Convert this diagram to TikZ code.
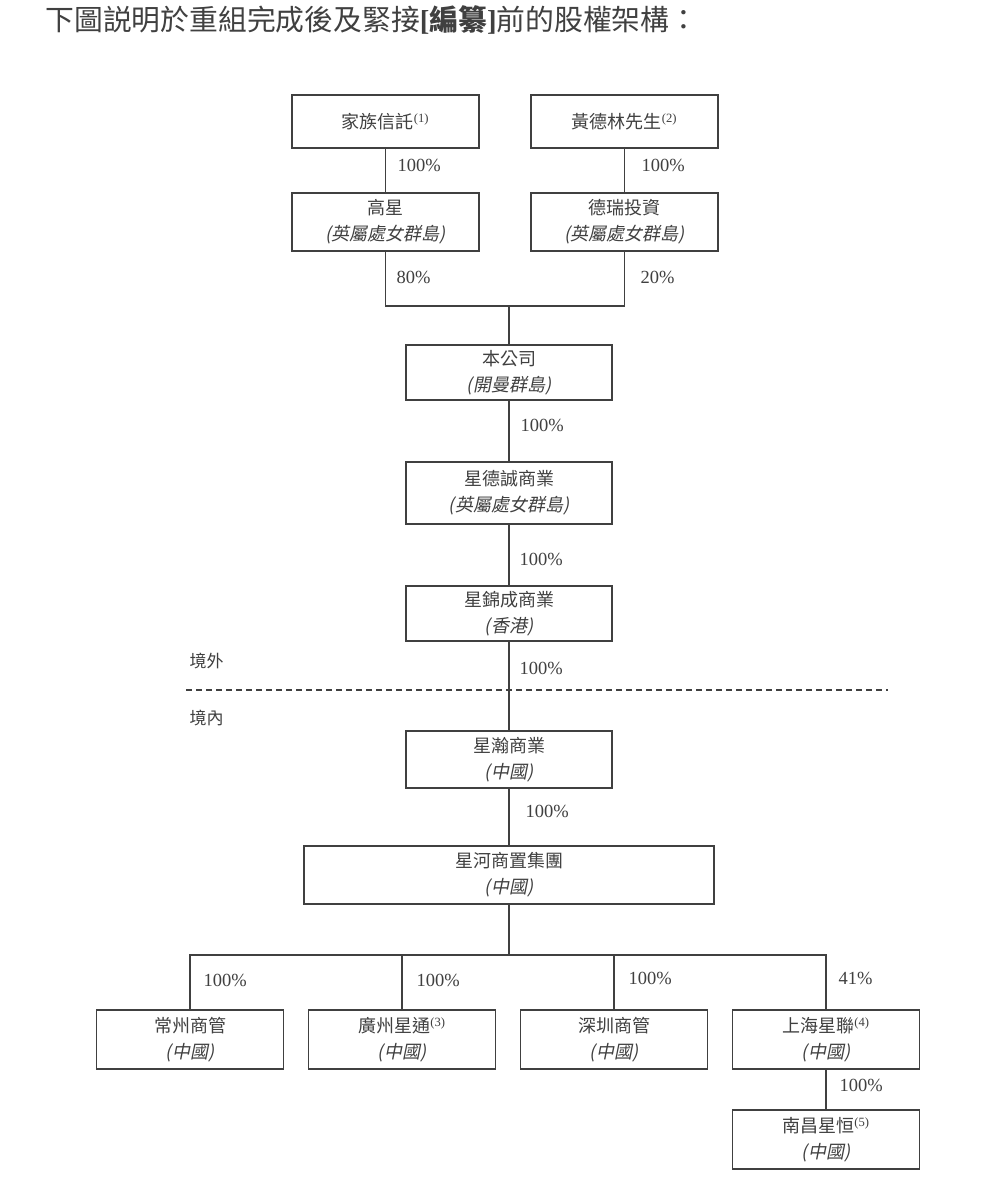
\documentclass[tikz,border=0pt]{standalone}
\usepackage{fontspec}
\setmainfont{Liberation Serif}
\newfontfamily\zhfont{Noto Sans CJK TC}
\newfontfamily\zhslant[FakeSlant=0.2]{Noto Sans CJK TC}
\usetikzlibrary{positioning}

\newcommand{\fnmark}[1]{\textsuperscript{\rmfamily(#1)}}

\begin{document}
\begin{tikzpicture}[x=1pt,y=-1pt,
      color=black!75,line width=1.1pt,
      box/.style={draw,minimum width=187pt,minimum height=53pt,inner sep=0pt,
                  align=center,font=\zhfont\fontsize{18}{26}\selectfont},
      wbox/.style={box,minimum width=206pt},
      pct/.style={anchor=west,inner sep=0pt,font=\fontsize{18.5}{20}\selectfont},
      area/.style={anchor=west,inner sep=0pt,font=\zhfont\fontsize{17}{20}\selectfont}]
    \useasboundingbox[fill=white] (0,0) rectangle (995,1198);

    \node[anchor=west,inner sep=0pt,font=\zhfont\fontsize{28.8}{30}\selectfont] (title) at (45,20)
      {下圖説明於重組完成後及緊接{\rmfamily\bfseries[}{\bfseries 編纂}{\rmfamily\bfseries]}前的股權架構：};

    % holders
    \node[box] (trust) at (385.5,121.5) {家族信託\fnmark{1}};
    \node[box] (huang) at (624.5,121.5) {黃德林先生\fnmark{2}};
    \node[box,minimum height=58pt] (gaox) at (385.5,222) {高星\\{\zhslant(英屬處女群島)}};
    \node[box,minimum height=58pt] (deri) at (624.5,222) {德瑞投資\\{\zhslant(英屬處女群島)}};

    % offshore chain
    \node[wbox,minimum height=55pt] (comp) at (509,372.5) {本公司\\{\zhslant(開曼群島)}};
    \node[wbox,minimum height=62pt] (xdc) at (509,493) {星德誠商業\\{\zhslant(英屬處女群島)}};
    \node[wbox,minimum height=55pt] (xjc) at (509,613.5) {星錦成商業\\{\zhslant(香港)}};

    % onshore
    \node[wbox,minimum height=57pt] (xhs) at (509,759.5) {星瀚商業\\{\zhslant(中國)}};
    \node[box,minimum width=410pt,minimum height=58pt] (xhz) at (509,875) {星河商置集團\\{\zhslant(中國)}};
    \node[box,minimum height=59pt] (cz)  at (190,1039.5) {常州商管\\{\zhslant(中國)}};
    \node[box,minimum height=59pt] (gz)  at (402,1039.5) {廣州星通\fnmark{3}\\{\zhslant(中國)}};
    \node[box,minimum height=59pt] (sz)  at (614,1039.5) {深圳商管\\{\zhslant(中國)}};
    \node[box,minimum height=59pt] (shx) at (826,1039.5) {上海星聯\fnmark{4}\\{\zhslant(中國)}};
    \node[box,minimum height=59pt] (nc)  at (826,1139.5) {南昌星恒\fnmark{5}\\{\zhslant(中國)}};

    % border between offshore and onshore
    \coordinate (bl) at (186,690);
    \coordinate (br) at (888,690);
    \draw[dash pattern=on 6pt off 4pt] (bl) -- (br);
    \node[area] (off) at (189,661) {境外};
    \node[area] (on)  at (189,718) {境內};

    % links
    \coordinate (join) at (509,306);
    \coordinate (bus) at (509,955);
    \draw (trust) -- (gaox);
    \draw (huang) -- (deri);
    \draw (gaox.south) |- (deri.south |- join) -- (deri.south);
    \draw (join) -- (comp);
    \draw (comp) -- (xdc);
    \draw (xdc) -- (xjc);
    \draw (xjc) -- (xhs);
    \draw (xhs) -- (xhz);
    \draw (xhz) -- (bus);
    \draw (cz.north) |- (shx.north |- bus) -- (shx.north);
    \draw (gz.north) -- (gz.north |- bus);
    \draw (sz.north) -- (sz.north |- bus);
    \draw (shx) -- (nc);

    % shares
    \node[pct] (p1)  at (397,165)  {100\%};
    \node[pct] (p2)  at (641,165)  {100\%};
    \node[pct] (p3)  at (396,277)  {80\%};
    \node[pct] (p4)  at (640,277)  {20\%};
    \node[pct] (p5)  at (520,425)  {100\%};
    \node[pct] (p6)  at (519,559)  {100\%};
    \node[pct] (p7)  at (519,668)  {100\%};
    \node[pct] (p8)  at (525,811)  {100\%};
    \node[pct] (p9)  at (203,980)  {100\%};
    \node[pct] (p10) at (416,980)  {100\%};
    \node[pct] (p11) at (628,978)  {100\%};
    \node[pct] (p12) at (838,978)  {41\%};
    \node[pct] (p13) at (839,1085) {100\%};
  \end{tikzpicture}
\end{document}
